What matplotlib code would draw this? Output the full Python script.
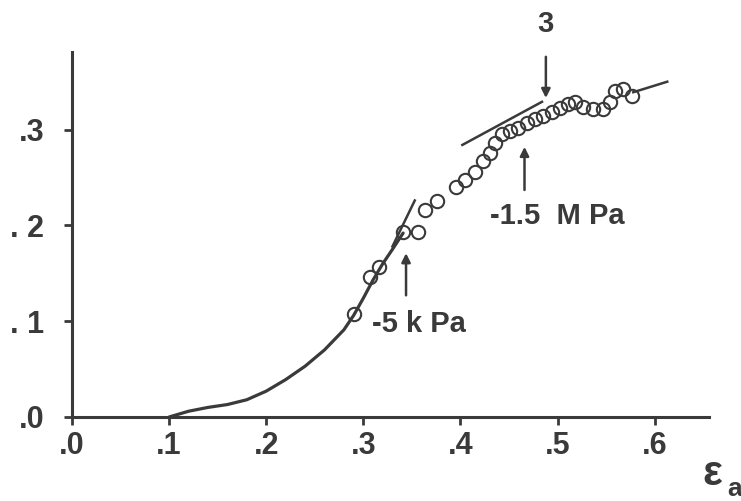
import matplotlib
matplotlib.use("Agg")
import matplotlib.pyplot as plt

# ---- data ----
curve_x = [0.100, 0.120, 0.140, 0.160, 0.180, 0.200, 0.220, 0.240, 0.260, 0.280,
           0.290, 0.300, 0.310, 0.320, 0.330, 0.341]
curve_y = [0.000, 0.006, 0.010, 0.013, 0.018, 0.027, 0.039, 0.053, 0.070, 0.091,
           0.106, 0.124, 0.143, 0.160, 0.175, 0.192]

circle_x = [0.290, 0.307, 0.316, 0.341, 0.356, 0.364, 0.376, 0.395, 0.405, 0.415,
            0.423, 0.430, 0.436, 0.443, 0.451, 0.459, 0.469, 0.477, 0.485, 0.494,
            0.503, 0.511, 0.518, 0.526, 0.537, 0.547, 0.554, 0.559, 0.567, 0.577]
circle_y = [0.107, 0.146, 0.157, 0.193, 0.193, 0.216, 0.225, 0.240, 0.247, 0.256,
            0.267, 0.276, 0.286, 0.295, 0.299, 0.302, 0.307, 0.311, 0.314, 0.318,
            0.323, 0.327, 0.329, 0.324, 0.321, 0.322, 0.329, 0.340, 0.342, 0.335]

tangent1_x = [0.330, 0.353]
tangent1_y = [0.178, 0.226]
tangent2_x = [0.402, 0.484]
tangent2_y = [0.284, 0.329]
tangent3_x = [0.578, 0.613]
tangent3_y = [0.339, 0.350]

x_ticks = [0.0, 0.1, 0.2, 0.3, 0.4, 0.5, 0.6]
x_tick_labels = [".0", ".1", ".2", ".3", ".4", ".5", ".6"]
y_ticks = [0.0, 0.1, 0.2, 0.3]
y_tick_labels = [".0", ". 1", ". 2", ".3"]

label_5kpa = "-5 k Pa"
label_15mpa = "-1.5  M Pa"
label_3 = "3"

ink = "#3a3a3a"
plt.rcParams['font.family'] = ['Liberation Sans', 'DejaVu Sans']

fig = plt.figure(figsize=(7.41, 5.01), dpi=100)
ax = fig.add_axes([72/741, 1 - 417/501, (709 - 72)/741, (417 - 52)/501])

ax.plot(curve_x, curve_y, color=ink, lw=2.3, solid_capstyle='round',
        solid_joinstyle='round')
for tx, ty in [(tangent1_x, tangent1_y), (tangent2_x, tangent2_y), (tangent3_x, tangent3_y)]:
    ax.plot(tx, ty, color=ink, lw=1.8)
ax.plot(circle_x, circle_y, 'o', ms=9.6, mfc='none', mec=ink, mew=1.5)

arrow_kw = dict(arrowstyle='-|>', color=ink, lw=1.8, mutation_scale=13, shrinkA=0, shrinkB=0)
ax.annotate('', xy=(0.344, 0.171), xytext=(0.344, 0.127), arrowprops=arrow_kw)
ax.annotate('', xy=(0.466, 0.282), xytext=(0.466, 0.237), arrowprops=arrow_kw)
ax.annotate('', xy=(0.488, 0.333), xytext=(0.488, 0.376), arrowprops=arrow_kw,
            annotation_clip=False)

tkw = dict(color=ink, fontsize=21, fontweight='bold')
ax.text(0.309, 0.097, label_5kpa, ha='left', va='center', **tkw)
ax.text(0.430, 0.210, label_15mpa, ha='left', va='center', **tkw)
ax.text(0.487, 0.410, label_3, ha='center', va='center', clip_on=False, **tkw)

ax.set_xlim(0, 0.656)
ax.set_ylim(0, 0.381)
ax.set_xticks(x_ticks)
ax.set_xticklabels(x_tick_labels)
ax.set_yticks(y_ticks)
ax.set_yticklabels(y_tick_labels)

for s in ['top', 'right']:
    ax.spines[s].set_visible(False)
for s in ['left', 'bottom']:
    ax.spines[s].set_color(ink)
    ax.spines[s].set_linewidth(2.2)

ax.tick_params(axis='x', direction='out', length=6, width=2, color=ink,
               labelsize=22, labelcolor=ink, pad=4)
ax.tick_params(axis='y', direction='out', length=6, width=2, color=ink,
               labelsize=22, labelcolor=ink, pad=14)
for lab in ax.get_xticklabels() + ax.get_yticklabels():
    lab.set_fontweight('bold')

fig.text(702/741, 1 - 474/501, "ε", fontsize=30, fontweight='bold', color=ink,
         ha='left', va='center')
fig.text(727/741, 1 - 489/501, "a", fontsize=19, fontweight='bold', color=ink,
         ha='left', va='center')

fig.savefig("out.png", dpi=100, facecolor='white')
